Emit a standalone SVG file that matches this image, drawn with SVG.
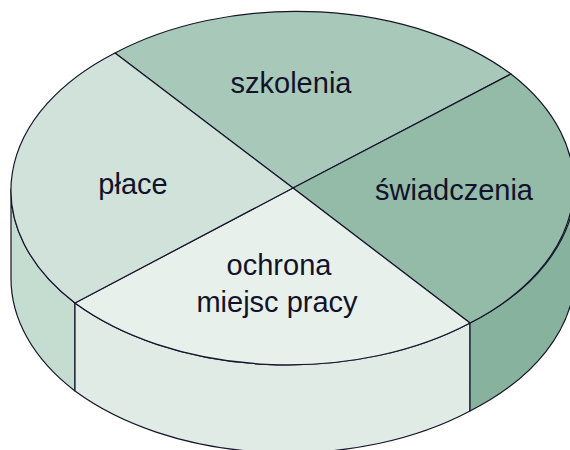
<svg xmlns="http://www.w3.org/2000/svg" width="570" height="450" viewBox="0 0 570 450">
<style>
.edge{stroke:#15152a;stroke-width:1.2;stroke-linejoin:round}
.lbl{font-family:"Liberation Sans",Arial,sans-serif;font-size:29px;fill:#12122a;text-anchor:middle}
</style>
<rect width="570" height="450" fill="#ffffff"/>
<g id="sides">
<path id="side-place" class="edge" fill="#c5ddd1" d="M 75 303 A 281 177 0 0 1 11 189 L 11 277 A 281 177 0 0 0 75 391 Z"/>
<path id="side-ochrona" class="edge" fill="#e1ebe6" d="M 75 303 L 75 391 A 281 177 0 0 0 470 411 L 470 323 A 281 177 0 0 1 75 303 Z"/>
<path id="side-swiadczenia" class="edge" fill="#87b29d" d="M 470 323 A 281 177 0 0 0 575 190 L 575 278 A 281 177 0 0 1 470 411 Z"/>
</g>
<g id="szkolenia">
<path class="edge" fill="#a8c9b9" d="M 293 188 L 115 53 A 281 177 0 0 1 511 74 Z"/>
<text class="lbl" x="291" y="93">szkolenia</text>
</g>
<g id="swiadczenia">
<path class="edge" fill="#93bba8" d="M 293 188 L 511 74 A 281 177 0 0 1 470 323 Z"/>
<text class="lbl" x="454" y="200">świadczenia</text>
</g>
<g id="ochrona">
<path class="edge" fill="#e8f0ec" d="M 293 188 L 470 323 A 281 177 0 0 1 75 303 Z"/>
<text class="lbl" x="279" y="275">ochrona</text>
<text class="lbl" x="277" y="312">miejsc pracy</text>
</g>
<g id="place">
<path class="edge" fill="#d0e2d9" d="M 293 188 L 75 303 A 281 177 0 0 1 115 53 Z"/>
<text class="lbl" x="133" y="194">płace</text>
</g>
</svg>
